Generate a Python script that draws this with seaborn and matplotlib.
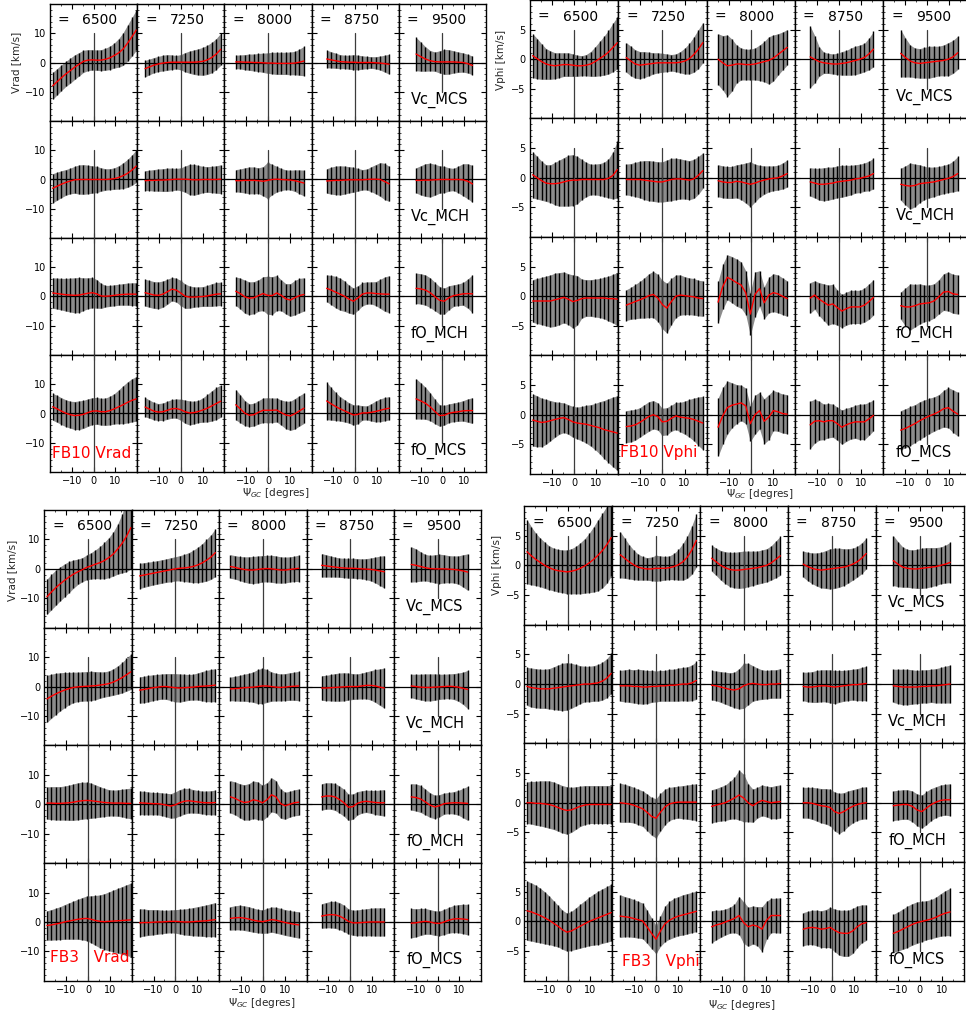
import numpy as np
import matplotlib
matplotlib.use("Agg")
import matplotlib.pyplot as plt
from matplotlib.ticker import MultipleLocator, FixedLocator
import seaborn as sns

# ---------------------------------------------------------------------------
# Grid of galactocentric radii (columns) and azimuth sampling per radius
# ---------------------------------------------------------------------------
RADII = [6500, 7250, 8000, 8750, 9500]
PSI_FIRST = [-18.8, -16.4, -14.8, -13.1, -12.1]
PSI_LAST = [19.6, 18.3, 16.5, 15.6, 13.8]
PSI_COUNT = [20, 18, 16, 15, 13]
MODELS = ["Vc_MCS", "Vc_MCH", "fO_MCH", "fO_MCS"]

# ---------------------------------------------------------------------------
# FB10, Vrad  (mean and dispersion, one list per radius)
# ---------------------------------------------------------------------------
fb10_vrad_mean_vcmcs = [
    [-8.0, -6.6, -5.2, -3.9, -2.8, -1.6, -0.6, 0.4, 0.8, 0.9, 0.8, 0.8, 1.1, 1.6, 2.4, 3.3, 4.6, 6.6, 8.8, 11.1],
    [-2.1, -1.5, -0.9, -0.5, -0.2, 0.0, 0.1, 0.1, 0.1, 0.1, 0.1, 0.1, 0.2, 0.4, 0.9, 1.7, 2.9, 4.5],
    [0.2, 0.2, 0.1, 0.1, 0.0, 0.0, -0.1, -0.2, -0.2, -0.3, -0.3, -0.3, -0.3, -0.2, 0.1, 0.5],
    [1.2, 0.9, 0.6, 0.3, 0.2, 0.1, 0.1, 0.0, 0.0, 0.0, 0.0, -0.1, -0.2, -0.4, -0.6],
    [2.9, 2.0, 1.2, 0.6, 0.3, 0.2, 0.2, 0.2, 0.2, 0.1, 0.0, -0.4, -1.0],
]
fb10_vrad_err_vcmcs = [
    [4.6, 4.5, 4.4, 4.3, 4.3, 4.2, 4.0, 3.8, 3.6, 3.5, 3.5, 3.6, 3.8, 4.0, 4.3, 4.9, 5.6, 6.2, 6.6, 6.9],
    [2.8, 2.7, 2.6, 2.6, 2.7, 2.7, 2.5, 2.3, 2.6, 3.3, 3.8, 4.2, 4.5, 4.8, 5.0, 5.2, 5.3, 5.5],
    [2.3, 2.4, 2.6, 2.8, 2.9, 3.1, 3.3, 3.5, 3.7, 3.8, 3.8, 3.8, 3.9, 4.0, 4.5, 5.0],
    [3.0, 2.8, 2.6, 2.4, 2.3, 2.4, 2.6, 2.5, 2.3, 2.1, 2.0, 2.1, 2.4, 2.9, 3.4],
    [5.7, 5.0, 4.2, 3.5, 3.3, 3.8, 4.3, 4.2, 3.8, 3.5, 3.3, 3.2, 3.2],
]
fb10_vrad_mean_vcmch = [
    [-3.0, -2.3, -1.6, -1.0, -0.5, -0.1, 0.0, 0.0, 0.0, 0.0, 0.0, 0.0, 0.0, 0.1, 0.3, 0.7, 1.3, 2.1, 3.2, 4.6],
    [-0.4, -0.3, -0.3, -0.2, -0.2, -0.1, 0.0, 0.1, 0.1, 0.1, 0.0, -0.1, -0.1, 0.0, 0.0, 0.0, 0.0, 0.1],
    [-0.4, -0.4, -0.3, -0.3, -0.3, -0.4, -0.6, -0.3, 0.0, 0.1, 0.0, -0.1, -0.2, -0.4, -0.8, -1.2],
    [-0.5, -0.4, -0.3, -0.3, -0.2, -0.1, -0.1, -0.1, -0.1, 0.0, 0.1, 0.1, 0.0, -0.7, -1.5],
    [-0.3, -0.3, -0.2, -0.2, -0.1, 0.0, 0.0, 0.0, 0.0, 0.0, -0.1, -0.6, -1.5],
]
fb10_vrad_err_vcmch = [
    [5.0, 4.8, 4.6, 4.4, 4.4, 4.6, 5.0, 5.1, 4.9, 4.7, 4.5, 4.0, 3.7, 3.6, 3.7, 4.0, 4.4, 4.8, 5.2, 5.6],
    [3.4, 3.5, 3.7, 3.8, 3.9, 4.0, 3.9, 3.7, 3.9, 4.5, 5.2, 5.3, 4.9, 4.5, 4.4, 4.5, 4.7, 4.9],
    [3.8, 4.0, 4.3, 4.6, 4.6, 4.4, 5.0, 6.2, 5.2, 4.4, 3.8, 3.4, 3.4, 3.7, 4.1, 4.4],
    [4.2, 4.6, 4.9, 5.0, 4.8, 4.5, 4.3, 3.9, 3.5, 3.6, 4.3, 5.0, 5.8, 6.2, 6.0],
    [4.3, 5.0, 5.6, 5.8, 5.3, 4.7, 4.5, 4.0, 3.8, 4.6, 5.5, 6.0, 6.3],
]
fb10_vrad_mean_fomch = [
    [1.2, 1.0, 0.8, 0.6, 0.5, 0.4, 0.5, 0.8, 1.1, 1.3, 0.9, 0.2, 0.1, 0.2, 0.4, 0.6, 0.7, 0.8, 0.8, 0.8],
    [1.3, 0.9, 0.5, 0.4, 0.8, 1.6, 2.5, 2.2, 1.2, 0.1, -0.2, -0.2, -0.1, 0.0, 0.2, 0.5, 0.8, 0.9],
    [1.8, 1.0, -0.1, -0.6, -0.4, 0.3, 1.0, 0.4, 0.3, 1.2, 0.4, -0.8, -1.2, -0.4, 0.3, 0.7],
    [2.8, 2.2, 1.5, 0.8, 0.1, -0.9, -1.6, -0.5, 0.8, 1.2, 1.2, 1.0, 0.9, 0.8, 0.8],
    [2.8, 2.6, 2.2, 1.3, 0.0, -1.3, -1.6, -0.4, 0.3, 0.6, 0.9, 1.0, 0.9],
]
fb10_vrad_err_fomch = [
    [5.2, 5.3, 5.4, 5.6, 5.8, 6.0, 6.0, 5.6, 5.3, 5.2, 4.9, 4.3, 3.7, 3.6, 3.6, 3.6, 3.7, 3.8, 3.9, 3.9],
    [4.6, 4.6, 4.6, 4.6, 4.5, 4.3, 4.0, 4.1, 4.3, 4.2, 3.8, 3.5, 3.4, 3.4, 3.6, 3.9, 4.0, 4.0],
    [4.9, 5.3, 5.7, 5.6, 5.5, 5.4, 5.8, 6.5, 6.5, 6.0, 5.3, 5.2, 5.6, 5.9, 5.9, 5.7],
    [4.6, 5.0, 5.4, 5.5, 5.2, 4.8, 4.5, 4.2, 4.0, 3.8, 3.8, 4.1, 5.0, 5.9, 6.3],
    [5.2, 5.2, 5.2, 5.1, 4.9, 4.7, 4.5, 4.1, 3.7, 3.7, 3.9, 5.0, 6.5],
]
fb10_vrad_mean_fomcs = [
    [2.3, 1.6, 0.8, 0.1, -0.4, -0.7, -0.6, -0.3, 0.3, 0.8, 0.9, 0.6, 0.6, 1.0, 1.6, 2.3, 3.0, 3.8, 4.5, 5.0],
    [2.2, 1.5, 0.8, 0.5, 0.6, 1.1, 1.6, 1.7, 1.3, 0.6, 0.2, 0.3, 0.7, 1.2, 1.8, 2.6, 3.4, 4.2],
    [3.0, 1.6, 0.1, -0.6, -0.4, 0.4, 1.1, 1.1, 1.1, 1.2, 0.3, -0.5, -0.8, -0.1, 0.9, 1.8],
    [4.3, 3.3, 2.4, 1.6, 0.9, 0.2, -0.5, -0.3, 0.2, 0.2, 0.4, 0.7, 1.1, 1.5, 1.8],
    [5.0, 4.3, 3.5, 2.3, 0.7, -0.7, -0.6, 0.1, 0.4, 0.6, 0.9, 1.0, 1.0],
]
fb10_vrad_err_fomcs = [
    [4.6, 4.6, 4.6, 4.6, 4.6, 4.8, 4.9, 4.8, 4.7, 4.6, 4.6, 4.6, 4.7, 4.9, 5.2, 5.8, 6.5, 7.0, 7.4, 7.6],
    [3.3, 3.1, 3.0, 2.9, 3.0, 3.1, 3.2, 3.3, 3.6, 4.0, 4.1, 3.9, 3.8, 4.2, 4.7, 5.2, 5.5, 5.5],
    [5.2, 4.8, 4.3, 3.9, 3.9, 4.0, 4.2, 4.3, 4.2, 4.1, 4.3, 4.7, 5.0, 5.2, 5.2, 5.2],
    [6.4, 5.6, 4.8, 4.2, 3.8, 3.5, 3.5, 3.2, 2.5, 2.4, 3.0, 3.6, 3.9, 4.0, 4.0],
    [6.9, 6.2, 5.5, 4.8, 4.2, 3.7, 3.4, 3.2, 3.2, 3.3, 3.5, 4.0, 4.4],
]

# ---------------------------------------------------------------------------
# FB10, Vphi
# ---------------------------------------------------------------------------
fb10_vphi_mean_vcmcs = [
    [0.6, 0.1, -0.4, -0.8, -1.0, -1.1, -1.0, -0.9, -0.9, -1.0, -1.1, -1.1, -1.0, -0.8, -0.4, 0.1, 0.6, 1.2, 2.0, 2.8],
    [0.3, -0.3, -0.8, -1.0, -0.9, -0.8, -0.7, -0.6, -0.6, -0.6, -0.6, -0.6, -0.5, -0.3, 0.1, 0.8, 1.7, 2.8],
    [0.0, -0.6, -1.1, -1.0, -0.8, -0.8, -0.9, -0.9, -0.8, -0.6, -0.4, -0.2, 0.2, 0.8, 1.4, 2.0],
    [0.4, 0.0, -0.4, -0.6, -0.7, -0.8, -0.8, -0.7, -0.6, -0.4, -0.2, 0.0, 0.3, 0.9, 1.7],
    [1.0, 0.3, -0.3, -0.6, -0.7, -0.6, -0.5, -0.4, -0.3, -0.2, 0.0, 0.4, 1.1],
]
fb10_vphi_err_vcmcs = [
    [3.7, 3.4, 3.0, 2.6, 2.4, 2.2, 2.1, 2.0, 2.0, 1.9, 1.8, 1.7, 1.8, 2.1, 2.5, 2.9, 3.3, 3.7, 4.1, 4.4],
    [2.5, 2.5, 2.4, 2.3, 2.2, 2.0, 1.8, 1.7, 1.6, 1.5, 1.4, 1.5, 1.8, 2.2, 2.6, 3.0, 3.3, 3.4],
    [4.3, 4.6, 5.2, 4.4, 3.2, 2.7, 2.6, 2.6, 2.7, 3.0, 3.4, 4.0, 3.9, 3.5, 3.2, 3.0],
    [5.2, 4.0, 2.5, 1.8, 1.7, 1.7, 1.8, 2.0, 2.1, 2.3, 2.4, 2.4, 2.4, 2.7, 3.0],
    [4.0, 3.3, 2.7, 2.5, 2.5, 2.6, 2.7, 2.6, 2.5, 2.6, 2.8, 2.8, 2.8],
]
fb10_vphi_mean_vcmch = [
    [0.5, 0.0, -0.5, -0.9, -1.0, -1.0, -0.9, -0.7, -0.5, -0.4, -0.4, -0.3, -0.3, -0.3, -0.3, -0.3, -0.3, -0.1, 0.4, 1.4],
    [-0.3, -0.3, -0.3, -0.3, -0.4, -0.5, -0.6, -0.7, -0.7, -0.5, -0.3, -0.2, -0.2, -0.3, -0.4, -0.2, 0.4, 1.2],
    [-0.5, -0.7, -0.8, -0.8, -0.6, -0.7, -0.9, -1.1, -0.9, -0.6, -0.4, -0.2, -0.1, 0.0, 0.3, 0.7],
    [-0.7, -0.9, -1.1, -1.1, -1.0, -0.9, -0.7, -0.6, -0.5, -0.4, -0.2, -0.1, 0.1, 0.3, 0.7],
    [-1.1, -1.3, -1.4, -1.3, -1.0, -0.9, -0.8, -0.7, -0.5, -0.3, -0.1, 0.2, 0.7],
]
fb10_vphi_err_vcmch = [
    [3.9, 3.6, 3.3, 3.1, 3.2, 3.6, 3.9, 4.1, 4.3, 4.3, 4.0, 3.4, 2.9, 2.6, 2.6, 2.7, 2.9, 3.3, 4.0, 4.8],
    [2.6, 2.7, 2.9, 3.1, 3.3, 3.4, 3.4, 3.4, 3.4, 3.5, 3.6, 3.5, 3.4, 3.3, 3.3, 3.3, 3.2, 3.0],
    [2.7, 2.7, 2.7, 2.7, 2.8, 3.0, 3.4, 3.8, 3.2, 2.7, 2.4, 2.2, 2.1, 2.1, 2.2, 2.3],
    [2.4, 2.5, 2.7, 2.8, 2.8, 2.7, 2.7, 2.7, 2.6, 2.5, 2.4, 2.4, 2.4, 2.5, 2.6],
    [2.7, 3.3, 3.9, 3.6, 3.2, 2.8, 2.6, 2.5, 2.4, 2.4, 2.4, 2.6, 2.9],
]
fb10_vphi_mean_fomch = [
    [-0.8, -0.8, -0.8, -0.8, -0.8, -0.6, -0.4, -0.2, -0.5, -0.9, -0.7, -0.4, -0.3, -0.3, -0.3, -0.3, -0.3, -0.4, -0.4, -0.5],
    [-1.5, -1.2, -0.9, -0.6, -0.3, 0.1, 0.3, -0.3, -1.4, -2.0, -0.9, 0.0, 0.2, 0.1, 0.0, -0.1, -0.3, -0.4],
    [-1.0, 1.6, 3.2, 2.8, 2.3, 1.9, 0.6, -3.0, 0.3, 1.3, -1.1, 0.2, 0.6, 0.4, 0.0, -0.4],
    [-0.3, 0.2, -0.5, -1.0, -1.5, -1.3, -1.9, -2.5, -2.1, -1.8, -1.8, -1.8, -1.5, -0.9, -0.2],
    [-1.6, -1.8, -1.8, -1.6, -1.3, -1.2, -1.1, -0.8, -0.1, 0.7, 0.8, 0.4, 0.3],
]
fb10_vphi_err_fomch = [
    [3.6, 3.8, 4.0, 4.2, 4.4, 4.5, 4.4, 4.3, 4.3, 4.5, 4.2, 3.3, 3.1, 3.1, 3.2, 3.3, 3.5, 3.8, 4.1, 4.5],
    [2.6, 2.7, 2.9, 3.1, 3.4, 3.7, 3.9, 4.0, 4.1, 4.2, 3.9, 3.6, 3.4, 3.2, 3.1, 3.1, 3.0, 3.0],
    [3.5, 3.8, 3.8, 3.9, 4.0, 3.9, 3.7, 3.6, 3.8, 3.0, 2.7, 3.0, 3.2, 3.2, 3.1, 3.0],
    [2.6, 2.4, 2.8, 3.1, 3.4, 3.3, 3.0, 2.8, 2.8, 2.8, 2.8, 2.8, 2.9, 3.0, 3.0],
    [2.3, 3.2, 3.9, 3.6, 3.4, 3.1, 3.0, 2.9, 2.9, 3.1, 3.3, 3.3, 3.3],
]
fb10_vphi_mean_fomcs = [
    [-0.9, -1.1, -1.3, -1.2, -1.0, -0.8, -0.6, -0.5, -0.8, -1.2, -1.4, -1.5, -1.6, -1.8, -2.0, -2.2, -2.5, -2.7, -2.9, -3.1],
    [-2.0, -1.9, -1.7, -1.3, -0.8, -0.3, 0.0, -0.3, -1.2, -1.1, -0.6, -0.2, -0.4, -0.5, -0.6, -0.8, -1.1, -1.4],
    [-2.1, -0.2, 1.2, 1.6, 1.8, 2.0, 1.5, -1.5, 0.0, 0.7, -1.1, -0.4, 0.7, 0.5, 0.2, 0.1],
    [-1.7, -1.1, -1.0, -1.2, -1.0, -1.0, -1.5, -2.1, -1.7, -1.4, -1.2, -1.2, -1.2, -0.7, -0.1],
    [-2.6, -2.3, -1.9, -1.5, -1.0, -0.6, -0.2, 0.1, 0.5, 1.0, 1.2, 0.6, 0.1],
]
fb10_vphi_err_fomcs = [
    [4.4, 4.3, 4.1, 3.8, 3.4, 3.0, 2.7, 2.5, 2.5, 2.6, 2.7, 2.9, 3.2, 3.5, 3.9, 4.4, 4.9, 5.4, 5.9, 6.3],
    [2.7, 2.7, 2.6, 2.5, 2.5, 2.5, 2.4, 2.3, 2.3, 2.3, 2.2, 2.3, 2.5, 2.8, 3.2, 3.6, 4.1, 4.5],
    [4.9, 4.8, 4.5, 3.8, 3.3, 3.0, 3.0, 3.0, 3.3, 3.1, 3.8, 3.8, 3.4, 3.3, 3.3, 3.3],
    [4.0, 3.7, 3.3, 3.0, 2.9, 2.8, 2.8, 2.9, 2.8, 2.7, 2.8, 3.0, 3.0, 2.8, 2.6],
    [3.3, 3.3, 3.3, 3.2, 3.2, 3.1, 3.0, 2.9, 2.9, 3.1, 3.4, 3.6, 3.7],
]

# ---------------------------------------------------------------------------
# FB3, Vrad
# ---------------------------------------------------------------------------
fb3_vrad_mean_vcmcs = [
    [-9.5, -7.9, -6.4, -5.1, -3.9, -2.8, -1.8, -1.0, -0.3, 0.5, 1.0, 1.6, 2.1, 2.8, 3.8, 5.0, 6.7, 8.6, 11.0, 14.0],
    [-2.4, -2.1, -1.8, -1.5, -1.2, -0.9, -0.6, -0.3, 0.0, 0.2, 0.3, 0.5, 0.8, 1.3, 2.0, 2.9, 4.0, 5.5],
    [0.8, 0.5, 0.1, -0.2, -0.4, -0.4, -0.2, 0.0, 0.1, 0.0, -0.2, -0.4, -0.4, -0.2, 0.0, 0.2],
    [1.2, 1.0, 0.8, 0.6, 0.4, 0.3, 0.2, 0.2, 0.1, 0.0, -0.1, -0.2, -0.4, -0.7, -1.0],
    [1.5, 1.2, 0.8, 0.4, 0.1, 0.0, 0.0, 0.0, -0.1, -0.2, -0.4, -0.7, -1.1],
]
fb3_vrad_err_vcmcs = [
    [6.0, 6.0, 6.0, 5.8, 5.6, 5.3, 4.8, 4.3, 4.1, 4.2, 4.5, 4.9, 5.5, 6.2, 6.8, 7.5, 8.5, 10.0, 12.0, 14.0],
    [4.3, 4.2, 4.1, 4.0, 4.0, 4.0, 4.0, 4.1, 4.1, 4.3, 4.6, 5.0, 5.5, 6.0, 6.5, 7.1, 7.6, 8.1],
    [4.0, 4.0, 4.1, 4.3, 4.5, 4.6, 4.6, 4.5, 4.5, 4.6, 4.6, 4.5, 4.4, 4.3, 4.3, 4.5],
    [4.0, 3.8, 3.6, 3.4, 3.3, 3.3, 3.4, 3.4, 3.4, 3.4, 3.6, 3.9, 4.4, 5.0, 5.5],
    [6.0, 5.6, 5.0, 4.5, 4.5, 4.8, 5.0, 4.8, 4.6, 4.6, 4.8, 5.5, 6.2],
]
fb3_vrad_mean_vcmch = [
    [-4.2, -3.3, -2.5, -1.8, -1.2, -0.7, -0.3, -0.1, 0.0, 0.1, 0.2, 0.3, 0.5, 0.7, 1.0, 1.5, 2.2, 3.0, 4.0, 5.0],
    [-1.2, -1.0, -0.7, -0.4, -0.2, 0.0, 0.0, -0.2, -0.4, -0.5, -0.4, -0.3, -0.2, 0.0, 0.1, 0.2, 0.3, 0.5],
    [-0.8, -0.7, -0.6, -0.4, -0.3, -0.2, 0.0, 0.2, 0.2, 0.0, -0.2, -0.3, -0.2, 0.0, 0.1, 0.2],
    [-0.5, -0.5, -0.4, -0.3, -0.2, -0.1, 0.0, 0.0, 0.0, 0.2, 0.4, 0.4, 0.2, -0.2, -0.5],
    [0.2, 0.0, -0.2, -0.3, -0.3, -0.2, -0.1, 0.0, 0.1, 0.0, -0.2, -0.6, -1.0],
]
fb3_vrad_err_vcmch = [
    [8.0, 7.5, 7.0, 6.5, 6.0, 5.5, 5.2, 5.0, 5.0, 5.0, 5.0, 4.8, 4.5, 4.3, 4.3, 4.5, 4.8, 5.2, 5.6, 6.0],
    [4.5, 4.5, 4.5, 4.4, 4.3, 4.3, 4.4, 4.6, 4.8, 4.8, 4.6, 4.4, 4.4, 4.6, 5.0, 5.3, 5.5, 5.6],
    [4.0, 4.2, 4.4, 4.6, 4.8, 5.2, 5.8, 6.0, 5.6, 5.0, 4.7, 4.6, 4.6, 4.7, 4.8, 5.0],
    [4.2, 4.3, 4.5, 4.7, 4.8, 4.8, 4.6, 4.4, 4.3, 4.4, 4.6, 5.0, 5.6, 6.2, 6.8],
    [4.0, 4.2, 4.4, 4.6, 4.6, 4.5, 4.3, 4.2, 4.2, 4.4, 4.8, 5.5, 6.5],
]
fb3_vrad_mean_fomch = [
    [0.4, 0.4, 0.3, 0.3, 0.4, 0.5, 0.7, 1.0, 1.2, 1.3, 1.2, 1.0, 0.8, 0.6, 0.5, 0.4, 0.4, 0.4, 0.3, 0.3],
    [0.5, 0.4, 0.3, 0.2, 0.2, 0.0, -0.3, -0.6, -0.2, 0.5, 1.0, 1.2, 1.0, 0.8, 0.6, 0.5, 0.5, 0.6],
    [2.5, 2.0, 1.2, 0.6, 0.8, 1.5, 1.2, 0.5, 1.5, 3.2, 2.5, 0.2, -0.5, 0.0, 0.5, 0.7],
    [2.5, 2.8, 2.8, 2.5, 1.6, 0.5, -1.0, -0.8, 0.3, 0.8, 1.0, 0.8, 0.6, 0.5, 0.5],
    [2.5, 2.3, 1.8, 0.8, -0.3, -0.9, -0.5, 0.2, 0.4, 0.5, 0.5, 0.4, 0.3],
]
fb3_vrad_err_fomch = [
    [5.5, 5.6, 5.7, 5.7, 5.8, 6.0, 6.2, 6.3, 6.3, 6.2, 6.0, 5.6, 5.2, 4.8, 4.5, 4.4, 4.5, 4.7, 5.0, 5.2],
    [4.0, 4.0, 3.9, 3.8, 3.8, 3.9, 4.0, 4.2, 4.4, 4.5, 4.4, 4.2, 4.0, 3.9, 3.9, 4.0, 4.1, 4.2],
    [5.5, 5.6, 5.8, 6.0, 6.2, 6.4, 6.4, 6.0, 5.8, 5.8, 5.5, 5.0, 4.6, 4.4, 4.4, 4.5],
    [4.5, 4.5, 4.5, 4.6, 4.6, 4.6, 4.5, 4.3, 4.0, 3.8, 3.8, 3.9, 4.1, 4.3, 4.5],
    [4.5, 4.6, 4.6, 4.4, 4.2, 4.0, 3.8, 3.6, 3.6, 3.8, 4.2, 5.0, 5.8],
]
fb3_vrad_mean_fomcs = [
    [-1.2, -1.0, -0.7, -0.4, 0.0, 0.3, 0.6, 0.9, 1.1, 1.2, 0.9, 0.5, 0.2, 0.1, 0.2, 0.3, 0.4, 0.5, 0.6, 0.7],
    [-0.3, -0.2, -0.2, -0.1, 0.0, 0.0, 0.1, 0.2, 0.2, 0.1, 0.0, 0.0, 0.1, 0.2, 0.3, 0.4, 0.6, 0.8],
    [1.2, 1.4, 1.5, 1.3, 1.0, 0.6, 0.3, 0.1, 0.4, 0.8, 0.6, 0.2, -0.2, -0.5, -0.8, -1.0],
    [2.0, 2.3, 2.5, 2.4, 2.0, 1.2, 0.2, -0.3, -0.3, -0.2, -0.1, 0.0, 0.0, 0.0, 0.0],
    [-0.4, -0.3, 0.0, 0.2, 0.0, -0.4, -0.5, 0.0, 0.6, 1.0, 1.1, 1.0, 0.8],
]
fb3_vrad_err_fomcs = [
    [5.0, 5.2, 5.4, 5.6, 5.9, 6.2, 6.5, 6.8, 7.2, 7.6, 8.0, 8.5, 9.0, 9.5, 10.0, 10.5, 11.0, 11.5, 12.0, 12.5],
    [4.8, 4.6, 4.4, 4.3, 4.2, 4.0, 3.9, 3.9, 4.0, 4.2, 4.4, 4.6, 4.8, 5.0, 5.2, 5.4, 5.6, 5.8],
    [4.0, 4.1, 4.2, 4.2, 4.2, 4.1, 4.0, 4.0, 4.2, 4.3, 4.4, 4.4, 4.4, 4.4, 4.4, 4.5],
    [4.2, 4.3, 4.5, 4.6, 4.6, 4.5, 4.3, 4.3, 4.4, 4.5, 4.6, 4.7, 4.8, 4.8, 4.8],
    [5.0, 4.8, 4.6, 4.4, 4.2, 4.2, 4.2, 4.3, 4.4, 4.6, 4.8, 5.0, 5.2],
]

# ---------------------------------------------------------------------------
# FB3, Vphi
# ---------------------------------------------------------------------------
fb3_vphi_mean_vcmcs = [
    [2.3, 1.6, 1.0, 0.5, 0.0, -0.4, -0.7, -0.9, -1.0, -1.1, -1.0, -0.8, -0.5, -0.1, 0.4, 1.0, 1.7, 2.5, 3.5, 4.7],
    [1.8, 1.2, 0.6, 0.1, -0.3, -0.5, -0.6, -0.6, -0.5, -0.5, -0.5, -0.4, -0.2, 0.1, 0.6, 1.4, 2.6, 4.2],
    [1.2, 0.6, 0.0, -0.4, -0.7, -0.8, -0.8, -0.7, -0.6, -0.5, -0.4, -0.2, 0.0, 0.4, 1.0, 1.6],
    [0.2, -0.2, -0.5, -0.7, -0.8, -0.7, -0.6, -0.5, -0.4, -0.3, -0.1, 0.2, 0.6, 1.2, 2.0],
    [0.8, 0.2, -0.3, -0.5, -0.6, -0.6, -0.5, -0.4, -0.3, -0.2, 0.0, 0.2, 0.5],
]
fb3_vphi_err_vcmcs = [
    [5.4, 4.9, 4.4, 4.1, 3.9, 3.7, 3.6, 3.6, 3.6, 3.7, 3.8, 4.0, 4.3, 4.6, 5.0, 5.5, 6.0, 6.3, 6.5, 6.5],
    [3.9, 3.4, 2.9, 2.5, 2.2, 2.0, 1.9, 2.0, 2.2, 2.1, 2.0, 2.0, 2.2, 2.6, 3.1, 3.6, 4.1, 4.5],
    [2.2, 2.3, 2.5, 2.7, 2.9, 3.0, 3.1, 3.1, 3.0, 2.9, 2.8, 2.8, 2.8, 2.9, 3.1, 3.3],
    [2.2, 2.4, 2.6, 2.8, 3.0, 3.2, 3.4, 3.4, 3.3, 3.1, 2.9, 2.7, 2.6, 2.6, 2.6],
    [4.2, 3.8, 3.4, 3.2, 3.2, 3.3, 3.4, 3.4, 3.3, 3.2, 3.1, 3.2, 3.4],
]
fb3_vphi_mean_vcmch = [
    [-0.4, -0.6, -0.7, -0.8, -0.8, -0.8, -0.7, -0.6, -0.5, -0.4, -0.3, -0.2, -0.1, 0.0, 0.0, 0.1, 0.2, 0.5, 1.0, 1.8],
    [-0.3, -0.3, -0.3, -0.4, -0.4, -0.5, -0.5, -0.4, -0.4, -0.3, -0.3, -0.2, -0.2, -0.1, 0.0, 0.0, 0.2, 0.6],
    [-0.2, -0.3, -0.5, -0.7, -0.9, -1.0, -0.8, -0.3, 0.0, 0.1, 0.0, -0.1, -0.1, 0.0, 0.0, 0.1],
    [-0.4, -0.5, -0.5, -0.4, -0.3, -0.3, -0.4, -0.5, -0.4, -0.3, -0.2, -0.1, -0.1, 0.0, 0.1],
    [-0.3, -0.4, -0.5, -0.5, -0.5, -0.5, -0.4, -0.4, -0.3, -0.3, -0.2, -0.1, 0.0],
]
fb3_vphi_err_vcmch = [
    [3.2, 3.3, 3.3, 3.3, 3.3, 3.4, 3.6, 3.8, 4.0, 4.0, 3.8, 3.5, 3.2, 3.0, 3.0, 3.0, 3.1, 3.2, 3.3, 3.4],
    [2.6, 2.7, 2.8, 2.8, 2.9, 2.9, 2.8, 2.7, 2.6, 2.6, 2.6, 2.7, 2.7, 2.8, 2.8, 2.9, 3.0, 3.2],
    [2.5, 2.5, 2.6, 2.7, 2.8, 3.0, 3.4, 3.8, 3.5, 3.0, 2.7, 2.5, 2.4, 2.4, 2.4, 2.5],
    [2.4, 2.5, 2.6, 2.7, 2.7, 2.7, 2.8, 2.8, 2.7, 2.6, 2.6, 2.6, 2.7, 2.8, 2.9],
    [2.8, 2.9, 3.0, 3.0, 2.9, 2.8, 2.8, 2.8, 2.8, 2.9, 3.0, 3.1, 3.2],
]
fb3_vphi_mean_fomch = [
    [0.0, 0.0, -0.1, -0.1, -0.2, -0.3, -0.5, -0.8, -1.1, -1.3, -1.2, -0.9, -0.6, -0.4, -0.3, -0.3, -0.3, -0.3, -0.3, -0.3],
    [0.0, -0.1, -0.2, -0.4, -0.7, -1.0, -1.6, -2.3, -2.6, -1.6, -0.7, -0.2, 0.0, 0.1, 0.1, 0.1, 0.1, 0.1],
    [-0.6, -0.4, -0.2, 0.0, 0.4, 0.8, 1.3, 0.8, 0.0, -0.5, 0.0, 0.4, 0.2, 0.0, 0.1, 0.2],
    [0.0, 0.0, -0.1, -0.3, -0.5, -0.6, -0.8, -1.5, -1.8, -1.5, -1.0, -0.6, -0.3, -0.1, 0.0],
    [-0.5, -0.4, -0.3, -0.3, -0.6, -1.2, -1.5, -0.9, -0.3, 0.1, 0.4, 0.5, 0.5],
]
fb3_vphi_err_fomch = [
    [3.5, 3.6, 3.7, 3.8, 3.9, 4.0, 4.0, 4.0, 4.0, 4.0, 3.8, 3.6, 3.4, 3.3, 3.2, 3.2, 3.2, 3.2, 3.2, 3.2],
    [3.3, 3.2, 3.1, 3.0, 3.0, 3.0, 3.1, 3.2, 3.3, 3.2, 3.0, 2.8, 2.7, 2.7, 2.8, 2.9, 3.0, 3.1],
    [2.8, 2.8, 2.9, 3.0, 3.2, 3.5, 4.2, 4.0, 3.2, 2.8, 2.6, 2.6, 2.6, 2.7, 2.8, 2.8],
    [2.6, 2.6, 2.7, 2.8, 2.9, 3.0, 3.1, 3.3, 3.4, 3.2, 3.0, 2.8, 2.7, 2.7, 2.7],
    [2.5, 2.5, 2.5, 2.5, 2.6, 2.7, 2.8, 2.8, 2.7, 2.6, 2.6, 2.6, 2.7],
]
fb3_vphi_mean_fomcs = [
    [1.8, 1.6, 1.3, 1.0, 0.6, 0.2, -0.3, -0.8, -1.4, -1.8, -1.6, -1.2, -0.8, -0.4, 0.0, 0.3, 0.6, 0.9, 1.2, 1.5],
    [0.9, 0.8, 0.7, 0.5, 0.3, 0.1, -0.9, -2.0, -3.0, -1.6, -0.4, 0.2, 0.6, 0.9, 1.1, 1.3, 1.5, 1.7],
    [-0.9, -0.6, -0.4, -0.1, 0.2, 0.5, 1.0, -0.2, -0.9, -0.6, -0.8, -1.3, 0.2, 1.0, 1.0, 1.0],
    [-1.3, -1.1, -1.0, -1.1, -1.3, -1.2, -1.0, -1.5, -1.9, -2.0, -2.0, -1.6, -0.9, -0.4, -0.2],
    [-2.0, -1.7, -1.3, -0.9, -0.5, -0.2, 0.0, 0.2, 0.4, 0.7, 1.1, 1.4, 1.6],
]
fb3_vphi_err_fomcs = [
    [5.0, 4.9, 4.8, 4.6, 4.4, 4.1, 3.8, 3.5, 3.3, 3.2, 3.3, 3.5, 3.7, 3.9, 4.1, 4.3, 4.5, 4.6, 4.7, 4.8],
    [3.6, 3.4, 3.3, 3.2, 3.1, 3.0, 2.8, 2.6, 2.4, 2.6, 3.0, 3.2, 3.3, 3.3, 3.4, 3.4, 3.4, 3.4],
    [2.7, 2.5, 2.3, 2.2, 2.2, 2.4, 3.2, 3.5, 3.3, 3.2, 3.3, 3.8, 3.2, 2.9, 2.9, 3.0],
    [2.8, 2.8, 2.9, 3.0, 3.1, 3.2, 3.4, 3.6, 3.8, 3.9, 3.9, 3.8, 3.5, 3.2, 3.0],
    [3.2, 3.3, 3.4, 3.5, 3.5, 3.5, 3.4, 3.3, 3.3, 3.4, 3.6, 3.8, 4.0],
]

# Extent of the psi = 0 marker, as fractions of the y half-range, per row / column
ZERO_MARK_SPAN = [
    [(-1.0, 0.5)] * 4 + [(-0.5, 0.5)],
    [(-1.0, 0.5)] * 4 + [(-0.5, 0.5)],
    [(-1.0, 1.0)] * 4 + [(-0.5, 1.0)],
    [(-1.0, 1.0)] * 4 + [(-0.5, 1.0)],
]

# Panel blocks: data, y range and pixel placement (left, top, column width, row height)
BLOCKS = [
    dict(mean=[fb10_vrad_mean_vcmcs, fb10_vrad_mean_vcmch, fb10_vrad_mean_fomch, fb10_vrad_mean_fomcs],
         err=[fb10_vrad_err_vcmcs, fb10_vrad_err_vcmch, fb10_vrad_err_fomch, fb10_vrad_err_fomcs],
         ylim=20, major=10, minor=2, ylabel="Vrad [km/s]", tag="FB10 Vrad", tag_col=0,
         tag_pos=(0.02, 0.16), box=(50.0, 4.0, 87.2, 117.0),
         ylabel_xy=(16, 62), xlabel_xy=(276, 493)),
    dict(mean=[fb10_vphi_mean_vcmcs, fb10_vphi_mean_vcmch, fb10_vphi_mean_fomch, fb10_vphi_mean_fomcs],
         err=[fb10_vphi_err_vcmcs, fb10_vphi_err_vcmch, fb10_vphi_err_fomch, fb10_vphi_err_fomcs],
         ylim=10, major=5, minor=1, ylabel="Vphi [km/s]", tag="FB10 Vphi", tag_col=1,
         tag_pos=(0.015, 0.18), box=(530.0, 0.0, 88.3, 118.5),
         ylabel_xy=(501, 60), xlabel_xy=(760, 494)),
    dict(mean=[fb3_vrad_mean_vcmcs, fb3_vrad_mean_vcmch, fb3_vrad_mean_fomch, fb3_vrad_mean_fomcs],
         err=[fb3_vrad_err_vcmcs, fb3_vrad_err_vcmch, fb3_vrad_err_fomch, fb3_vrad_err_fomcs],
         ylim=20, major=10, minor=2, ylabel="Vrad [km/s]", tag="FB3   Vrad", tag_col=0,
         tag_pos=(0.07, 0.20), box=(44.3, 510.0, 87.4, 117.7),
         ylabel_xy=(12, 570), xlabel_xy=(262, 1003)),
    dict(mean=[fb3_vphi_mean_vcmcs, fb3_vphi_mean_vcmch, fb3_vphi_mean_fomch, fb3_vphi_mean_fomcs],
         err=[fb3_vphi_err_vcmcs, fb3_vphi_err_vcmch, fb3_vphi_err_fomch, fb3_vphi_err_fomcs],
         ylim=10, major=5, minor=1, ylabel="Vphi [km/s]", tag="FB3   Vphi", tag_col=1,
         tag_pos=(0.11, 0.16), box=(524.3, 506.0, 87.9, 118.7),
         ylabel_xy=(497, 565), xlabel_xy=(742, 1005)),
]

W, H = 966, 1013
sns.set_theme(style="ticks")
plt.rcParams["font.family"] = ["DejaVu Sans"]
plt.rcParams["axes.linewidth"] = 1.0

fig = plt.figure(figsize=(W / 100, H / 100), dpi=100)


def px_axes(x, y, w, h):
    return fig.add_axes([x / W, 1 - (y + h) / H, w / W, h / H])


for blk in BLOCKS:
    x0, y0, cw, rh = blk["box"]
    ylim = blk["ylim"]
    for r in range(4):
        for c in range(5):
            ax = px_axes(x0 + c * cw, y0 + r * rh, cw, rh)
            psi = np.linspace(PSI_FIRST[c], PSI_LAST[c], PSI_COUNT[c])
            m = np.asarray(blk["mean"][r][c], dtype=float)
            e = np.asarray(blk["err"][r][c], dtype=float)

            # dispersion bars over a grey envelope, then reference lines and the mean
            ax.fill_between(psi, m - e, m + e, color="#8c8c8c", lw=0, zorder=1)
            ax.vlines(psi, m - e, m + e, color="black", lw=1.0, zorder=2)
            ax.axhline(0, color="black", lw=0.9, zorder=3)
            lo, hi = ZERO_MARK_SPAN[r][c]
            ax.axvline(0, ymin=(lo + 1) / 2, ymax=(hi + 1) / 2,
                       color="#3c3c3c", lw=0.9, zorder=3)
            sns.lineplot(x=psi, y=m, ax=ax, color="red", lw=1.0,
                         estimator=None, zorder=4)

            ax.set_xlim(-20, 20)
            ax.set_ylim(-ylim, ylim)
            ax.xaxis.set_major_locator(FixedLocator([-10, 0, 10]))
            ax.xaxis.set_minor_locator(MultipleLocator(5))
            ax.yaxis.set_major_locator(FixedLocator([-blk["major"], 0, blk["major"]]))
            ax.yaxis.set_minor_locator(MultipleLocator(blk["minor"]))
            ax.tick_params(which="both", direction="in", top=True, right=True,
                           colors="black", labelsize=7)
            ax.tick_params(which="major", length=3.5, width=0.8, pad=3)
            ax.tick_params(which="minor", length=1.3, width=0.5)
            ax.set_xlabel("")
            ax.set_ylabel("")
            if c != 0:
                ax.set_yticklabels([])
            if r != 3:
                ax.set_xticklabels([])
            for sp in ax.spines.values():
                sp.set_linewidth(1.0)
                sp.set_color("black")

            if r == 0:
                ax.text(0.09, 0.86, "=", transform=ax.transAxes, fontsize=10,
                        va="center", ha="left", color="black")
                ax.text(0.37, 0.86, str(RADII[c]), transform=ax.transAxes,
                        fontsize=10, va="center", ha="left", color="black")
            if c == 4:
                ax.text(0.14, 0.18, MODELS[r], transform=ax.transAxes,
                        fontsize=10.5, va="center", ha="left", color="black")
            if r == 3 and c == blk["tag_col"]:
                ax.text(blk["tag_pos"][0], blk["tag_pos"][1], blk["tag"],
                        transform=ax.transAxes, fontsize=11, va="center",
                        ha="left", color="red", zorder=6)

    fig.text(blk["ylabel_xy"][0] / W, 1 - blk["ylabel_xy"][1] / H, blk["ylabel"],
             rotation=90, ha="center", va="center", fontsize=7.5)
    fig.text(blk["xlabel_xy"][0] / W, 1 - blk["xlabel_xy"][1] / H,
             r"$\Psi_{GC}$ [degres]", ha="center", va="center", fontsize=7.5)

fig.savefig("out.png", dpi=100)
